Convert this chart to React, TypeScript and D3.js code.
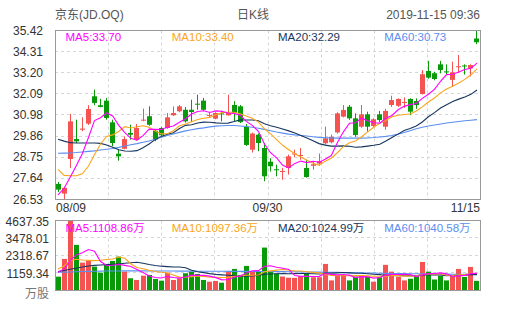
import React from "react"
import * as d3 from "d3"

// header + axis text
const title = "京东(JD.OQ)"
const period = "日K线"
const stamp = "2019-11-15 09:36"
const dateLabels = ["08/09", "09/30", "11/15"]
const priceTicks = [35.42, 34.31, 33.2, 32.09, 30.98, 29.86, 28.75, 27.64, 26.53]
const volumeTicks = [4637.35, 3478.01, 2318.67, 1159.34]
const priceLegend = ["MA5:33.70", "MA10:33.40", "MA20:32.29", "MA60:30.73"]
const volumeLegend = ["MA5:1108.86万", "MA10:1097.36万", "MA20:1024.99万", "MA60:1040.58万"]

// daily candles 08/09 .. 11/15
const opens = [27.35, 26.84, 28.66, 29.71, 30.2, 30.52, 31.96, 31.49, 31.73, 30.59,
  28.94, 29.2, 30.03, 29.68, 30.68, 30.91, 30.15, 30.29, 30.29, 30.96,
  31.17, 31.25, 31.25, 31.57, 31.73, 30.95, 30.78, 31.06, 30.96, 31.5,
  31.43, 30.35, 29.15, 29.94, 29.24, 28.52, 28.12, 28.0, 28.19, 28.9,
  28.83, 28.19, 28.3, 28.42, 29.49, 29.54, 30.06, 30.89, 31.41, 30.8,
  30.36, 31.01, 30.4, 31.01, 30.36, 31.5, 31.46, 31.62, 31.82, 31.71,
  32.08, 33.29, 33.17, 33.64, 33.27, 32.82, 33.5, 33.58, 33.43, 35.0]
const highs = [27.45, 27.2, 31.03, 30.73, 30.85, 31.49, 32.31, 31.83, 31.87, 30.73,
  29.19, 29.85, 30.46, 30.5, 31.31, 31.43, 30.2, 30.35, 31.08, 31.43,
  31.5, 31.4, 31.78, 32.04, 31.87, 31.15, 31.12, 31.2, 32.04, 31.7,
  31.5, 30.5, 30.05, 30.0, 29.5, 28.7, 28.36, 28.19, 28.89, 29.15,
  29.24, 28.62, 28.55, 28.95, 30.36, 29.95, 31.12, 31.5, 31.5, 31.06,
  31.5, 31.15, 30.8, 31.19, 31.3, 31.99, 31.85, 31.9, 31.85, 31.85,
  33.34, 33.82, 33.25, 33.82, 33.64, 33.78, 34.13, 33.64, 33.64, 35.42]
const lows = [26.92, 26.53, 28.19, 29.5, 30.12, 30.45, 31.49, 31.38, 30.73, 29.33,
  28.57, 29.18, 29.68, 29.62, 30.65, 30.41, 29.6, 29.85, 30.25, 30.92,
  31.12, 30.58, 30.6, 31.25, 31.2, 30.85, 30.75, 30.64, 30.94, 30.62,
  30.55, 29.35, 29.0, 29.07, 27.49, 28.0, 27.75, 27.57, 27.84, 28.75,
  28.62, 27.68, 28.1, 28.3, 29.42, 29.48, 30.0, 30.85, 30.72, 29.83,
  30.3, 30.1, 30.35, 30.6, 30.2, 31.4, 31.4, 31.35, 30.97, 31.3,
  32.05, 32.88, 32.8, 33.17, 33.1, 32.46, 33.2, 33.1, 33.0, 34.7]
const closes = [27.05, 27.14, 30.64, 29.59, 30.26, 31.29, 31.61, 31.4, 30.82, 29.5,
  28.8, 29.71, 29.94, 30.29, 30.73, 30.46, 29.68, 29.91, 30.85, 31.08,
  31.43, 30.64, 31.13, 31.53, 31.25, 30.98, 31.08, 31.02, 31.08, 31.08,
  30.6, 29.4, 30.0, 29.5, 27.75, 28.28, 28.08, 28.03, 28.8, 28.95,
  28.87, 27.71, 28.38, 28.55, 29.75, 29.83, 31.06, 31.24, 30.8, 29.92,
  31.01, 30.36, 30.75, 30.71, 31.19, 31.76, 31.82, 31.66, 31.15, 31.5,
  33.12, 32.94, 32.87, 33.34, 33.23, 33.22, 33.54, 33.54, 33.6, 34.8]
// volume, 万股
const volumes = [890, 2074, 4637.35, 3011, 1826, 1940, 1559, 1158, 1673, 1940,
  2228, 1225, 783, 669, 957, 1004, 736, 622, 1158, 669,
  783, 1117, 1225, 1071, 669, 555, 602, 488, 1205, 1405,
  1004, 1606, 1225, 1225, 2830, 1200, 1100, 900, 820, 810,
  920, 1120, 850, 850, 1740, 640, 970, 970, 640, 900,
  970, 915, 555, 850, 1680, 1225, 870, 640, 750, 980,
  1870, 1225, 700, 950, 640, 1004, 1405, 870, 1540, 610]

// moving average lines
const ma5 = [26.77, 27.12, 27.7, 28.3, 28.94, 29.78, 30.68, 30.83, 31.08, 30.92,
  30.43, 30.05, 29.75, 29.65, 29.89, 30.23, 30.22, 30.21, 30.33, 30.4,
  30.59, 30.78, 31.03, 31.16, 31.2, 31.11, 31.19, 31.17, 31.08, 31.05,
  30.97, 30.64, 30.43, 30.12, 29.45, 28.99, 28.72, 28.33, 28.19, 28.43,
  28.55, 28.47, 28.54, 28.49, 28.65, 28.84, 29.51, 30.09, 30.54, 30.57,
  30.81, 30.67, 30.57, 30.55, 30.8, 30.95, 31.25, 31.43, 31.52, 31.58,
  31.85, 32.07, 32.32, 32.75, 33.1, 33.12, 33.24, 33.37, 33.43, 33.7]
const ma10 = [28.12, 27.8, 27.78, 27.78, 27.88, 28.28, 28.88, 29.45, 29.85, 29.93,
  30.11, 30.36, 30.29, 30.36, 30.41, 30.33, 30.13, 29.98, 29.99, 30.15,
  30.41, 30.5, 30.62, 30.74, 30.8, 30.85, 30.99, 31.1, 31.12, 31.12,
  31.04, 30.92, 30.8, 30.6, 30.25, 29.98, 29.68, 29.38, 29.15, 28.94,
  28.77, 28.6, 28.44, 28.34, 28.54, 28.7, 28.99, 29.31, 29.51, 29.61,
  29.83, 30.09, 30.33, 30.54, 30.69, 30.88, 30.96, 31.0, 31.03, 31.19,
  31.4, 31.66, 31.87, 32.14, 32.34, 32.49, 32.66, 32.85, 33.09, 33.4]
const ma20 = [29.7, 29.6, 29.52, 29.5, 29.5, 29.5, 29.5, 29.48, 29.4, 29.28,
  29.15, 29.08, 29.07, 29.1, 29.25, 29.45, 29.68, 29.85, 29.96, 30.04,
  30.26, 30.43, 30.46, 30.55, 30.6, 30.59, 30.56, 30.54, 30.55, 30.63,
  30.72, 30.71, 30.71, 30.67, 30.52, 30.41, 30.33, 30.24, 30.14, 30.03,
  29.9, 29.76, 29.62, 29.47, 29.39, 29.34, 29.34, 29.35, 29.33, 29.28,
  29.3, 29.34, 29.38, 29.44, 29.61, 29.79, 29.97, 30.16, 30.27, 30.4,
  30.61, 30.88, 31.1, 31.34, 31.51, 31.68, 31.81, 31.92, 32.06, 32.29]
const ma60 = [28.96, 28.97, 28.98, 29.0, 29.03, 29.06, 29.09, 29.13, 29.17, 29.21,
  29.27, 29.34, 29.41, 29.47, 29.54, 29.61, 29.7, 29.8, 29.9, 29.98,
  30.06, 30.14, 30.2, 30.26, 30.3, 30.35, 30.39, 30.41, 30.42, 30.42,
  30.4, 30.37, 30.33, 30.28, 30.22, 30.15, 30.08, 30.02, 29.97, 29.93,
  29.9, 29.87, 29.83, 29.8, 29.78, 29.77, 29.76, 29.76, 29.76, 29.76,
  29.76, 29.77, 29.79, 29.82, 29.85, 29.9, 29.97, 30.05, 30.15, 30.25,
  30.33, 30.4, 30.45, 30.5, 30.55, 30.59, 30.63, 30.67, 30.7, 30.73]
const vma5 = [1184, 1405, 1960, 2342, 2488, 2698, 2595, 1899, 1631, 1654,
  1712, 1645, 1570, 1369, 1172, 928, 830, 798, 895, 838,
  794, 870, 990, 973, 973, 927, 824, 677, 704, 851,
  941, 1142, 1289, 1293, 1578, 1617, 1516, 1451, 1370, 966,
  910, 914, 904, 910, 1096, 1040, 1010, 1034, 992, 824,
  890, 879, 796, 838, 994, 1045, 1036, 1053, 1033, 893,
  1022, 1093, 1105, 1145, 1077, 904, 940, 974, 1092, 1109]
const vma10 = [1400, 1600, 1950, 2050, 2000, 1980, 1960, 1980, 2030, 2071,
  2205, 2120, 1734, 1500, 1413, 1320, 1237, 1184, 1132, 1005,
  861, 850, 894, 934, 905, 861, 847, 834, 838, 912,
  934, 983, 983, 998, 1215, 1279, 1329, 1370, 1332, 1272,
  1264, 1215, 1178, 1140, 1031, 975, 962, 969, 951, 960,
  965, 945, 915, 915, 909, 968, 958, 925, 936, 944,
  1034, 1065, 1079, 1089, 985, 963, 1016, 1039, 1118, 1097]
const vma20 = [1225, 1300, 1380, 1450, 1540, 1600, 1640, 1665, 1690, 1720,
  1740, 1780, 1820, 1850, 1790, 1700, 1640, 1590, 1560, 1538,
  1533, 1485, 1314, 1217, 1159, 1090, 1042, 1009, 985, 959,
  897, 916, 939, 966, 1060, 1070, 1088, 1102, 1085, 1092,
  1099, 1099, 1080, 1069, 1123, 1127, 1145, 1170, 1141, 1116,
  1114, 1080, 1046, 1028, 970, 971, 960, 947, 943, 952,
  999, 1005, 997, 1002, 947, 965, 987, 982, 1027, 1025]
const vma60 = [1180, 1190, 1205, 1215, 1230, 1242, 1250, 1258, 1265, 1270,
  1272, 1274, 1276, 1275, 1274, 1272, 1270, 1268, 1266, 1264,
  1262, 1260, 1258, 1256, 1254, 1252, 1250, 1248, 1246, 1244,
  1242, 1240, 1238, 1236, 1234, 1232, 1228, 1224, 1220, 1215,
  1210, 1204, 1198, 1192, 1186, 1180, 1174, 1168, 1160, 1152,
  1144, 1136, 1128, 1120, 1112, 1105, 1098, 1092, 1086, 1080,
  1075, 1070, 1066, 1062, 1058, 1054, 1050, 1047, 1044, 1041]

const UP = "#f55252"
const DOWN = "#089a08"
const maColors = ["#f0f", "#fba51a", "#16365e", "#5b8ef0"]
const font = "'Liberation Sans', Arial, 'Noto Sans CJK SC', sans-serif"

export default function App() {
  const L = 55, R = 480
  const T = 30.5, B = 199.5
  const VT = 220.5, VB = 290

  const x = d3.scaleBand<number>()
    .domain(d3.range(closes.length))
    .range([L, R])
    .paddingInner(0.18)
    .paddingOuter(0.09)
  const bw = Math.round(x.bandwidth())
  const left = (i: number) => Math.round(x(i)!)
  const mid = (i: number) => x(i)! + x.bandwidth() / 2

  const y = d3.scaleLinear().domain([26.53, 35.42]).range([B, T])
  const vy = d3.scaleLinear().domain([0, 4637.35]).range([VB, VT])

  const priceLine = d3.line<number>().x((d, i) => mid(i)).y(d => y(d))
  const volLine = d3.line<number>().x((d, i) => mid(i)).y(d => vy(d))

  const vgrid = d3.range(1, 8).map(k => Math.round(L + (k * (R - L)) / 8) + 0.5)
  const legendX = d3.range(4).map(k => L + 10.5 + k * (R - L) / 4)
  const crisp = (v: number) => Math.round(v - 0.5) + 0.5

  return (
    <svg width={505} height={310} style={{ position: "absolute", left: 0, top: 0, background: "#fff" }}
      fontFamily={font}>
      {/* header */}
      <g fontSize={12} fill="#555" dominantBaseline="central">
        <text x={L} y={15}>{title}</text>
        <text x={253} y={15} textAnchor="middle">{period}</text>
        <text x={R} y={15} textAnchor="end">{stamp}</text>
      </g>

      {/* grids */}
      <g stroke="#d6d6d6" strokeDasharray="3,3" strokeWidth={1}>
        {priceTicks.slice(1, -1).map(t => (
          <line key={"h" + t} x1={L} x2={R} y1={crisp(y(t))} y2={crisp(y(t))} />
        ))}
        {volumeTicks.slice(1).map(t => (
          <line key={"v" + t} x1={L} x2={R} y1={crisp(vy(t))} y2={crisp(vy(t))} />
        ))}
        {vgrid.map(gx => (
          <g key={gx}>
            <line x1={gx} x2={gx} y1={T} y2={B} />
            <line x1={gx} x2={gx} y1={VT} y2={VB} />
          </g>
        ))}
      </g>

      {/* candles */}
      <g>
        {closes.map((c, i) => {
          const o = opens[i]
          const up = c >= o
          const col = up ? UP : DOWN
          const top = y(Math.max(o, c))
          const h = Math.max(1, Math.abs(y(o) - y(c)))
          return (
            <g key={i}>
              <line x1={left(i) + bw / 2} x2={left(i) + bw / 2} y1={y(highs[i])} y2={y(lows[i])} stroke={col} />
              <rect x={left(i)} y={top} width={bw} height={h} fill={col} />
            </g>
          )
        })}
      </g>

      {/* price MAs */}
      <g fill="none" strokeWidth={1.1}>
        <path d={priceLine(ma60)!} stroke={maColors[3]} />
        <path d={priceLine(ma20)!} stroke={maColors[2]} />
        <path d={priceLine(ma10)!} stroke={maColors[1]} />
        <path d={priceLine(ma5)!} stroke={maColors[0]} />
      </g>

      {/* volume bars */}
      <g>
        {volumes.map((v, i) => (
          <rect key={i} x={left(i)} y={vy(v)} width={bw} height={VB - vy(v)}
            fill={closes[i] >= opens[i] ? UP : DOWN} />
        ))}
      </g>
      <g fill="none" strokeWidth={1.1}>
        <path d={volLine(vma60)!} stroke={maColors[3]} />
        <path d={volLine(vma20)!} stroke={maColors[2]} />
        <path d={volLine(vma10)!} stroke={maColors[1]} />
        <path d={volLine(vma5)!} stroke={maColors[0]} />
      </g>

      {/* frames */}
      <rect x={L + 0.5} y={T} width={R - L} height={B - T} fill="none" stroke="#999" />
      <rect x={L + 0.5} y={VT} width={R - L} height={VB - VT + 0.5} fill="none" stroke="#999" />

      {/* legends */}
      <g fontSize={11.5} dominantBaseline="central">
        {priceLegend.map((s, k) => (
          <text key={s} x={legendX[k]} y={36.5} fill={maColors[k]}>{s}</text>
        ))}
        {volumeLegend.map((s, k) => (
          <text key={s} x={legendX[k]} y={228} fill={maColors[k]}>{s}</text>
        ))}
      </g>

      {/* axes labels */}
      <g fontSize={12} fill="#333" dominantBaseline="central" textAnchor="end">
        {priceTicks.map(t => (
          <text key={t} x={43} y={y(t)}>{t.toFixed(2)}</text>
        ))}
        {volumeTicks.map(t => (
          <text key={t} x={49} y={vy(t) + 1}>{t.toFixed(2)}</text>
        ))}
        <text x={49} y={294} fill="#777">万股</text>
      </g>
      <g fontSize={12} fill="#333" dominantBaseline="central">
        <text x={L + 1} y={208}>{dateLabels[0]}</text>
        <text x={(L + R) / 2} y={208} textAnchor="middle">{dateLabels[1]}</text>
        <text x={R} y={208} textAnchor="end">{dateLabels[2]}</text>
      </g>
    </svg>
  )
}
